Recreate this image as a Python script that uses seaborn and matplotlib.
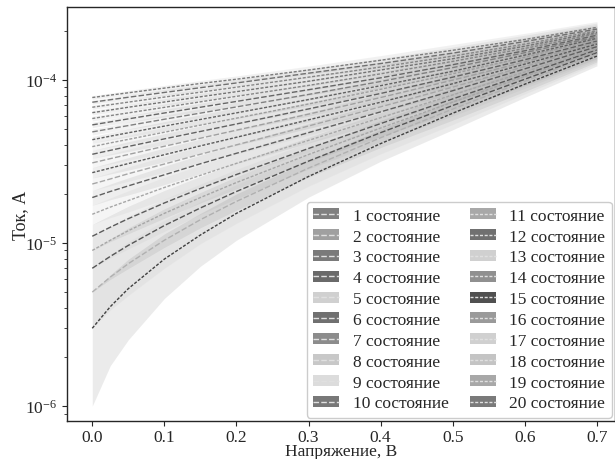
import pandas as pd
import matplotlib
matplotlib.use("Agg")
import matplotlib.pyplot as plt
import matplotlib.colors as mcolors
import seaborn as sns
from matplotlib.patches import Patch
from matplotlib.lines import Line2D

# Voltage grid, V
voltage = [0.0, 0.025, 0.05, 0.1, 0.15, 0.2, 0.3, 0.4, 0.5, 0.6, 0.7]

# Current of each state, microamperes (states 1..20)
current_uA = [
    [53, 55.3, 57.7, 62.7, 68, 73.8, 87.1, 103, 124, 151, 188],
    [48, 50.2, 52.5, 57.4, 62.6, 68.3, 81.5, 97.8, 119, 147, 184],
    [35, 37, 39.1, 43.5, 48.3, 53.7, 66.4, 82.6, 104, 133, 173],
    [7, 8.28, 9.67, 12.8, 16.4, 20.7, 31.8, 47.5, 69.7, 101, 147],
    [23, 24.7, 26.6, 30.5, 35, 40, 52.2, 68.4, 90.3, 121, 163],
    [11, 12.5, 14.1, 17.6, 21.6, 26.3, 38, 54, 76.5, 108, 153],
    [73, 75.6, 78.3, 83.8, 89.6, 95.8, 110, 126, 146, 172, 205],
    [31, 32.9, 34.9, 39.2, 43.9, 49.2, 61.7, 78, 99.7, 129, 170],
    [5, 6.18, 7.47, 10.4, 13.9, 18, 28.8, 44.2, 66.3, 98.1, 144],
    [19, 20.7, 22.4, 26.2, 30.6, 35.5, 47.5, 63.7, 85.9, 117, 160],
    [58, 60.4, 62.8, 67.9, 73.4, 79.3, 92.6, 109, 130, 156, 192],
    [27, 28.8, 30.7, 34.8, 39.4, 44.5, 56.9, 73, 94.8, 125, 166],
    [9, 10.4, 11.9, 15.2, 19, 23.5, 34.9, 50.7, 73.1, 105, 150],
    [63, 65.4, 68, 73.2, 78.8, 84.7, 98.2, 115, 135, 161, 196],
    [3, 4.07, 5.25, 7.97, 11.2, 15.2, 25.6, 40.7, 62.5, 94.2, 140],
    [78, 80.7, 83.4, 89.1, 95.1, 101, 115, 132, 152, 177, 210],
    [15, 16.6, 18.2, 21.9, 26, 30.8, 42.6, 58.7, 80.9, 112, 156],
    [39, 41.1, 43.2, 47.8, 52.8, 58.3, 71.2, 87.6, 109, 138, 177],
    [68, 70.5, 73.1, 78.5, 84.1, 90.2, 104, 120, 140, 166, 200],
    [43, 45.2, 47.4, 52.1, 57.2, 62.8, 75.8, 92.2, 113, 142, 180],
]

# Half-width of the spread band, microamperes
band_halfwidth_uA = [2.0, 2.3, 2.7, 3.4, 4.0, 4.8, 6.5, 9.0, 13.0, 16.0, 18.0]

state_colors = ["#808080", "#a0a0a0", "#7a7a7a", "#6a6a6a", "#d0d0d0", "#707070", "#8c8c8c",
                "#c8c8c8", "#dcdcdc", "#787878", "#a8a8a8", "#707070", "#d0d0d0", "#909090",
                "#505050", "#9a9a9a", "#d0d0d0", "#c4c4c4", "#a8a8a8", "#7a7a7a"]
labels = [f"{i} состояние" for i in range(1, 21)]

rows = []
for i, lab in enumerate(labels):
    for j, v in enumerate(voltage):
        c = current_uA[i][j] * 1e-6
        hw = band_halfwidth_uA[j] * 1e-6
        for k in (-1, 0, 1):
            rows.append((v, c + k * hw, lab))
df = pd.DataFrame(rows, columns=["V", "I", "state"])

sns.set_style("ticks")
plt.rcParams["font.family"] = ["Liberation Serif", "DejaVu Serif"]
plt.rcParams["mathtext.fontset"] = "custom"
plt.rcParams["mathtext.rm"] = "Liberation Serif"
plt.rcParams["mathtext.it"] = "Liberation Serif:italic"

fig = plt.figure(figsize=(6.15, 4.6), dpi=100)
ax = fig.add_axes([0.109, 0.0826, 0.891, 0.9])
line_colors = [tuple(0.8 * c for c in mcolors.to_rgb(col)) for col in state_colors]
palette = dict(zip(labels, line_colors))
dash_long = (4, 1.6)
dash_short = (2.2, 1.2)
dashes = {lab: (dash_long if i < 10 else dash_short) for i, lab in enumerate(labels)}
sns.lineplot(data=df, x="V", y="I", hue="state", style="state", palette=palette,
             dashes=dashes, estimator="median", errorbar=("pi", 100),
             err_kws={"alpha": 0.1, "linewidth": 0}, linewidth=1.0, legend=False, ax=ax)
ax.set_yscale("log")
ax.set_xlim(-0.035, 0.725)
ax.set_ylim(8.1e-7, 2.8e-4)
ax.tick_params(labelsize=12.5)
ax.tick_params(axis="x", pad=2)
ax.set_xlabel("Напряжение, В", fontsize=12.5, labelpad=-1)
ax.set_ylabel("Ток, А", fontsize=13)
ax.yaxis.set_label_coords(-0.07, 0.5)
for sp in ax.spines.values():
    sp.set_linewidth(1.0)

handles = []
for i, lab in enumerate(labels):
    handles.append((Patch(facecolor=state_colors[i], edgecolor="none"),
                    Line2D([], [], color="#e0e0e0", lw=1.0, dashes=dashes[lab])))
ax.legend(handles, labels, ncol=2, loc="lower right", fontsize=12.5, labelspacing=0.28,
          handlelength=1.5, handleheight=0.6, columnspacing=1.2, handletextpad=0.8,
          borderpad=0.35, borderaxespad=0.2, fancybox=True, framealpha=1, edgecolor="#cccccc")

fig.savefig("out.png", dpi=100)
